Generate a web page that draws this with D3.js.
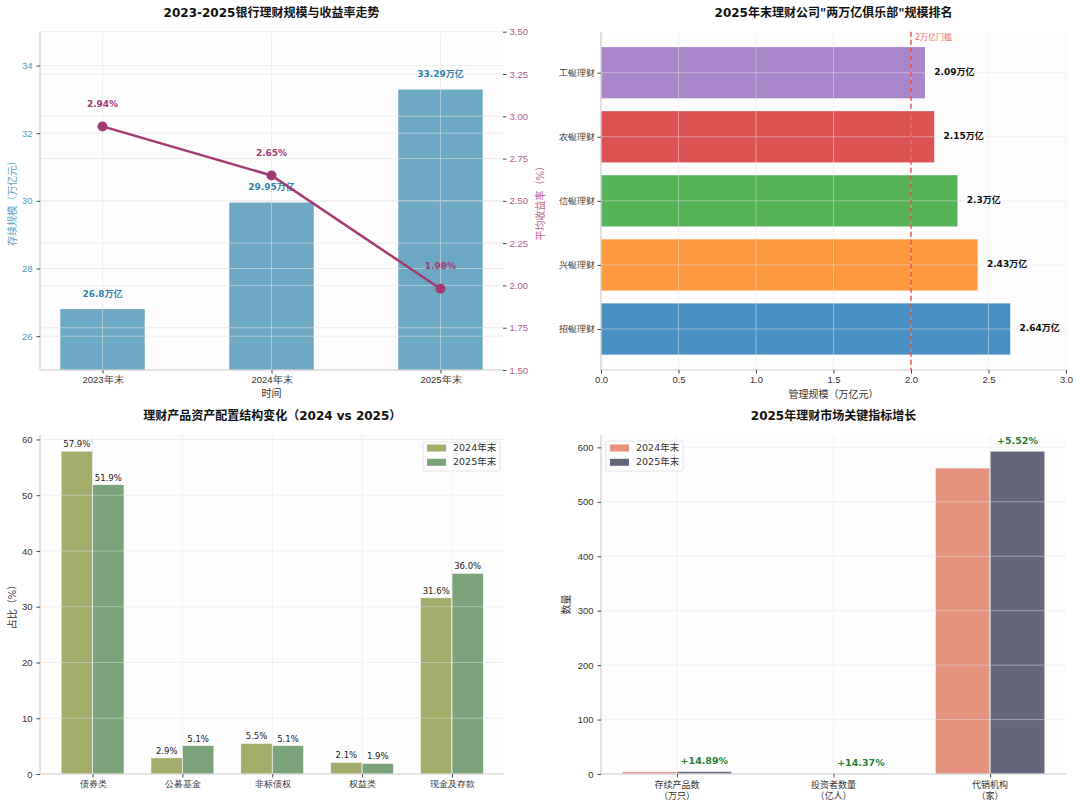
<!DOCTYPE html>
<html>
<head>
<meta charset="utf-8">
<script src="https://cdn.jsdelivr.net/npm/d3@7"></script>
<style>
  body { margin: 0; background: #fff; }
  svg { font-family: "DejaVu Sans", "Noto Sans CJK SC", sans-serif; }
  .tick text { font-size: 9.5px; fill: #333; }
  .tick line { stroke: #444; }
</style>
</head>
<body>
<script>
// 数据
const years = ["2023年末", "2024年末", "2025年末"];
const scaleValues = [26.8, 29.95, 33.29];
const yieldValues = [2.94, 2.65, 1.98];
const scaleTicks = [26, 28, 30, 32, 34];
const yieldTicks = [1.5, 1.75, 2.0, 2.25, 2.5, 2.75, 3.0, 3.25, 3.5];

const companies = ["招银理财", "兴银理财", "信银理财", "农银理财", "工银理财"];
const companyValues = [2.64, 2.43, 2.3, 2.15, 2.09];
const companyColors = ["#4a91c3", "#fe9940", "#57b357", "#de5253", "#a985ca"];
const companyTicks = [0, 0.5, 1.0, 1.5, 2.0, 2.5, 3.0];

const assetTypes = ["债券类", "公募基金", "非标债权", "权益类", "现金及存款"];
const asset2024 = [57.9, 2.9, 5.5, 2.1, 31.6];
const asset2025 = [51.9, 5.1, 5.1, 1.9, 36.0];
const assetTicks = [0, 10, 20, 30, 40, 50, 60];

const indicators = [["存续产品数", "（万只）"], ["投资者数量", "（亿人）"], ["代销机构", "（家）"]];
const ind2024 = [4.01, 1.25, 562];
const ind2025 = [4.61, 1.43, 593];
const growthLabels = ["+14.89%", "+14.37%", "+5.52%"];
const indTicks = [0, 100, 200, 300, 400, 500, 600];

let svg = d3.select("body").append("svg")
    .attr("width", 1080)
    .attr("height", 808);

svg.append("rect").attr("width", 1080).attr("height", 808).attr("fill", "#fff");

function panel(x0, x1, y0, y1) {
    let g = svg.append("g");
    g.append("rect")
        .attr("x", x0).attr("y", y0)
        .attr("width", x1 - x0).attr("height", y1 - y0)
        .attr("fill", "#fdfdfd");
    return g;
}

function spines(g, x0, x1, y0, y1) {
    g.append("line").attr("x1", x0).attr("x2", x0).attr("y1", y0).attr("y2", y1)
        .attr("stroke", "#cfcfcf").attr("stroke-width", 1.2);
    g.append("line").attr("x1", x0).attr("x2", x1).attr("y1", y1).attr("y2", y1)
        .attr("stroke", "#cfcfcf").attr("stroke-width", 1.2);
}

function title(text, cx, cy) {
    svg.append("text")
        .attr("x", cx).attr("y", cy)
        .attr("text-anchor", "middle")
        .attr("dominant-baseline", "middle")
        .attr("font-size", "12px")
        .attr("font-weight", "bold")
        .attr("fill", "#111")
        .text(text);
}

function cleanAxis(sel) {
    sel.select(".domain").remove();
}

// ---------- 图1：规模与收益率 ----------
{
    let x0 = 40, x1 = 503, y0 = 31.7, y1 = 370;
    let g = panel(x0, x1, y0, y1);
    let x = d3.scaleLinear().domain([-0.37, 2.37]).range([x0, x1]);
    let yL = d3.scaleLinear().domain([25, 35]).range([y1, y0]);
    let yR = d3.scaleLinear().domain([1.5, 3.5]).range([y1, y0]);

    g.selectAll(".bar")
        .data(scaleValues)
        .enter().append("rect")
        .attr("x", (d, i) => x(i - 0.25))
        .attr("width", x(0.5) - x(0))
        .attr("y", d => yL(d))
        .attr("height", d => y1 - yL(d))
        .attr("fill", "#6da9c5");

    // 网格
    let grid = g.append("g").attr("stroke", "#e2e2e2").attr("stroke-width", 0.8).attr("opacity", 0.7);
    scaleTicks.forEach(t => grid.append("line").attr("x1", x0).attr("x2", x1).attr("y1", yL(t)).attr("y2", yL(t)));
    yieldTicks.forEach(t => grid.append("line").attr("x1", x0).attr("x2", x1).attr("y1", yR(t)).attr("y2", yR(t)));
    years.forEach((d, i) => grid.append("line").attr("x1", x(i)).attr("x2", x(i)).attr("y1", y0).attr("y2", y1));

    spines(g, x0, x1, y0, y1);

    g.selectAll(".barlabel")
        .data(scaleValues)
        .enter().append("text")
        .attr("x", (d, i) => x(i))
        .attr("y", d => yL(d) - 12.5)
        .attr("text-anchor", "middle")
        .attr("font-size", "9px")
        .attr("font-weight", "bold")
        .attr("fill", "#2E86AB")
        .text(d => d + "万亿");

    let line = d3.line().x((d, i) => x(i)).y(d => yR(d));
    g.append("path")
        .datum(yieldValues)
        .attr("d", line)
        .attr("fill", "none")
        .attr("stroke", "#A23B72")
        .attr("stroke-width", 2.5);
    g.selectAll(".dot")
        .data(yieldValues)
        .enter().append("circle")
        .attr("cx", (d, i) => x(i))
        .attr("cy", d => yR(d))
        .attr("r", 5)
        .attr("fill", "#A23B72");
    g.selectAll(".linelabel")
        .data(yieldValues)
        .enter().append("text")
        .attr("x", (d, i) => x(i))
        .attr("y", d => yR(d) - 19.5)
        .attr("text-anchor", "middle")
        .attr("font-size", "9px")
        .attr("font-weight", "bold")
        .attr("fill", "#A23B72")
        .text(d => d.toFixed(2) + "%");

    let ax = g.append("g").attr("transform", "translate(0," + y1 + ")")
        .call(d3.axisBottom(x).tickValues([0, 1, 2]).tickFormat(i => years[i]).tickSize(3.5).tickPadding(3));
    cleanAxis(ax);
    let al = g.append("g").attr("transform", "translate(" + x0 + ",0)")
        .call(d3.axisLeft(yL).tickValues(scaleTicks).tickSize(3.5).tickPadding(4));
    cleanAxis(al);
    al.selectAll("text").style("fill", "#4f9bc0");
    let ar = g.append("g").attr("transform", "translate(" + x1 + ",0)")
        .call(d3.axisRight(yR).tickValues(yieldTicks).tickFormat(d3.format(".2f")).tickSize(3.5).tickPadding(3));
    cleanAxis(ar);
    ar.selectAll("text").style("fill", "#b45a88");

    g.append("text").attr("x", (x0 + x1) / 2).attr("y", 393.5)
        .attr("text-anchor", "middle").attr("dominant-baseline", "middle")
        .attr("font-size", "10px").attr("fill", "#333").text("时间");
    g.append("text")
        .attr("transform", "translate(13," + ((y0 + y1) / 2) + ") rotate(-90)")
        .attr("text-anchor", "middle").attr("dominant-baseline", "middle")
        .attr("font-size", "10px").attr("fill", "#5aa0c4").text("存续规模（万亿元）");
    g.append("text")
        .attr("transform", "translate(541," + ((y0 + y1) / 2) + ") rotate(-90)")
        .attr("text-anchor", "middle").attr("dominant-baseline", "middle")
        .attr("font-size", "10px").attr("fill", "#b8608c").text("平均收益率（%）");

    title("2023-2025银行理财规模与收益率走势", (x0 + x1) / 2, 13);
}

// ---------- 图2：两万亿俱乐部 ----------
{
    let x0 = 601, x1 = 1066, y0 = 31.7, y1 = 370;
    let g = panel(x0, x1, y0, y1);
    let x = d3.scaleLinear().domain([0, 3]).range([x0, x1]);
    let y = d3.scaleLinear().domain([-0.64, 4.64]).range([y1, y0]);

    g.selectAll(".bar")
        .data(companyValues)
        .enter().append("rect")
        .attr("x", x(0))
        .attr("y", (d, i) => y(i + 0.4))
        .attr("height", y(0) - y(0.8))
        .attr("width", d => x(d) - x(0))
        .attr("fill", (d, i) => companyColors[i]);

    let grid = g.append("g").attr("stroke", "#e4e4e4").attr("stroke-width", 0.8).attr("opacity", 0.6);
    companyTicks.forEach(t => grid.append("line").attr("x1", x(t)).attr("x2", x(t)).attr("y1", y0).attr("y2", y1));
    companies.forEach((d, i) => grid.append("line").attr("x1", x0).attr("x2", x1).attr("y1", y(i)).attr("y2", y(i)));

    spines(g, x0, x1, y0, y1);

    g.append("line")
        .attr("x1", x(2)).attr("x2", x(2)).attr("y1", y0).attr("y2", y1)
        .attr("stroke", "#e8423f").attr("stroke-width", 1.3)
        .attr("stroke-dasharray", "5,3");
    g.append("text")
        .attr("x", x(2) + 4).attr("y", 37.5)
        .attr("dominant-baseline", "middle")
        .attr("font-size", "8px").attr("fill", "#ec6b6b")
        .text("2万亿门槛");

    g.selectAll(".barlabel")
        .data(companyValues)
        .enter().append("text")
        .attr("x", d => x(d + 0.06))
        .attr("y", (d, i) => y(i))
        .attr("dominant-baseline", "middle")
        .attr("font-size", "9px")
        .attr("font-weight", "bold")
        .attr("fill", "#111")
        .text(d => d + "万亿");

    let ax = g.append("g").attr("transform", "translate(0," + y1 + ")")
        .call(d3.axisBottom(x).tickValues(companyTicks).tickFormat(d3.format(".1f")).tickSize(3.5).tickPadding(3));
    cleanAxis(ax);
    let ay = g.append("g").attr("transform", "translate(" + x0 + ",0)")
        .call(d3.axisLeft(y).tickValues([0, 1, 2, 3, 4]).tickFormat(i => companies[i]).tickSize(3.5).tickPadding(3));
    cleanAxis(ay);
    ay.selectAll("text").style("font-size", "9px");

    g.append("text").attr("x", (x0 + x1) / 2).attr("y", 394.5)
        .attr("text-anchor", "middle").attr("dominant-baseline", "middle")
        .attr("font-size", "10px").attr("fill", "#333").text("管理规模（万亿元）");

    title("2025年末理财公司\"两万亿俱乐部\"规模排名", (x0 + x1) / 2, 13);
}

// ---------- 图3：资产配置结构 ----------
{
    let x0 = 40, x1 = 504.5, y0 = 435, y1 = 774;
    let g = panel(x0, x1, y0, y1);
    let x = d3.scaleLinear().domain([-0.585, 4.585]).range([x0, x1]);
    let y = d3.scaleLinear().domain([0, 60.8]).range([y1, y0]);
    let w = 0.35;
    let c2024 = "#a3ac68", c2025 = "#7aa37a";

    let series = [[asset2024, -w / 2, c2024], [asset2025, w / 2, c2025]];
    series.forEach(s => {
        g.selectAll(null)
            .data(s[0])
            .enter().append("rect")
            .attr("x", (d, i) => x(i + s[1] - w / 2))
            .attr("width", x(w) - x(0))
            .attr("y", d => y(d))
            .attr("height", d => y1 - y(d))
            .attr("fill", s[2])
            .attr("stroke", "#fff").attr("stroke-width", 0.6);
    });

    let grid = g.append("g").attr("stroke", "#e4e4e4").attr("stroke-width", 0.8).attr("opacity", 0.6);
    assetTicks.forEach(t => grid.append("line").attr("x1", x0).attr("x2", x1).attr("y1", y(t)).attr("y2", y(t)));
    assetTypes.forEach((d, i) => grid.append("line").attr("x1", x(i)).attr("x2", x(i)).attr("y1", y0).attr("y2", y1));

    spines(g, x0, x1, y0, y1);

    series.forEach(s => {
        g.selectAll(null)
            .data(s[0])
            .enter().append("text")
            .attr("x", (d, i) => x(i + s[1]))
            .attr("y", d => y(d) - 4)
            .attr("text-anchor", "middle")
            .attr("font-size", "8.5px")
            .attr("fill", "#222")
            .text(d => d.toFixed(1) + "%");
    });

    let ax = g.append("g").attr("transform", "translate(0," + y1 + ")")
        .call(d3.axisBottom(x).tickValues([0, 1, 2, 3, 4]).tickFormat(i => assetTypes[i]).tickSize(3.5).tickPadding(3));
    cleanAxis(ax);
    ax.selectAll("text").style("font-size", "9px");
    let ay = g.append("g").attr("transform", "translate(" + x0 + ",0)")
        .call(d3.axisLeft(y).tickValues(assetTicks).tickSize(3.5).tickPadding(4));
    cleanAxis(ay);

    g.append("text")
        .attr("transform", "translate(13," + ((y0 + y1) / 2) + ") rotate(-90)")
        .attr("text-anchor", "middle").attr("dominant-baseline", "middle")
        .attr("font-size", "10px").attr("fill", "#333").text("占比（%）");

    // 图例
    let lg = g.append("g");
    lg.append("rect").attr("x", 423).attr("y", 442).attr("width", 77).attr("height", 29).attr("rx", 2)
        .attr("fill", "#fff").attr("stroke", "#ddd").attr("stroke-width", 0.8);
    [["2024年末", c2024], ["2025年末", c2025]].forEach((d, i) => {
        lg.append("rect").attr("x", 427).attr("y", 444.5 + i * 14.3).attr("width", 19).attr("height", 7).attr("fill", d[1]);
        lg.append("text").attr("x", 453).attr("y", 448 + i * 14.3).attr("dominant-baseline", "middle")
            .attr("font-size", "9.5px").attr("fill", "#333").text(d[0]);
    });

    title("理财产品资产配置结构变化（2024 vs 2025）", (x0 + x1) / 2, 416.5);
}

// ---------- 图4：关键指标增长 ----------
{
    let x0 = 601, x1 = 1066, y0 = 435, y1 = 774;
    let g = panel(x0, x1, y0, y1);
    let x = d3.scaleLinear().domain([-0.485, 2.485]).range([x0, x1]);
    let y = d3.scaleLinear().domain([0, 622.7]).range([y1, y0]);
    let w = 0.35;
    let c2024 = "#e5927e", c2025 = "#64667c";

    let series = [[ind2024, -w / 2, c2024], [ind2025, w / 2, c2025]];
    series.forEach(s => {
        g.selectAll(null)
            .data(s[0])
            .enter().append("rect")
            .attr("x", (d, i) => x(i + s[1] - w / 2))
            .attr("width", x(w) - x(0))
            .attr("y", d => y(d))
            .attr("height", d => y1 - y(d))
            .attr("fill", s[2])
            .attr("stroke", "#fff").attr("stroke-width", 0.6);
    });

    let grid = g.append("g").attr("stroke", "#e4e4e4").attr("stroke-width", 0.8).attr("opacity", 0.6);
    indTicks.forEach(t => grid.append("line").attr("x1", x0).attr("x2", x1).attr("y1", y(t)).attr("y2", y(t)));
    indicators.forEach((d, i) => grid.append("line").attr("x1", x(i)).attr("x2", x(i)).attr("y1", y0).attr("y2", y1));

    spines(g, x0, x1, y0, y1);

    g.selectAll(".growth")
        .data(growthLabels)
        .enter().append("text")
        .attr("x", (d, i) => x(i + w / 2))
        .attr("y", (d, i) => y(Math.max(ind2024[i], ind2025[i])) - 7.5)
        .attr("text-anchor", "middle")
        .attr("font-size", "9.5px")
        .attr("font-weight", "bold")
        .attr("fill", "#2e7d32")
        .text(d => d);

    let ax = g.append("g").attr("transform", "translate(0," + y1 + ")")
        .call(d3.axisBottom(x).tickValues([0, 1, 2]).tickFormat("").tickSize(3.5));
    cleanAxis(ax);
    indicators.forEach((d, i) => {
        let t = g.append("text").attr("x", x(i)).attr("y", 788)
            .attr("text-anchor", "middle").attr("font-size", "9px").attr("fill", "#333");
        t.append("tspan").attr("x", x(i)).attr("dy", 0).text(d[0]);
        t.append("tspan").attr("x", x(i)).attr("dy", 11).text(d[1]);
    });
    let ay = g.append("g").attr("transform", "translate(" + x0 + ",0)")
        .call(d3.axisLeft(y).tickValues(indTicks).tickSize(3.5).tickPadding(4));
    cleanAxis(ay);

    g.append("text")
        .attr("transform", "translate(567," + ((y0 + y1) / 2) + ") rotate(-90)")
        .attr("text-anchor", "middle").attr("dominant-baseline", "middle")
        .attr("font-size", "10px").attr("fill", "#333").text("数量");

    let lg = g.append("g");
    lg.append("rect").attr("x", 606).attr("y", 441).attr("width", 77).attr("height", 30).attr("rx", 2)
        .attr("fill", "#fff").attr("stroke", "#ddd").attr("stroke-width", 0.8);
    [["2024年末", c2024], ["2025年末", c2025]].forEach((d, i) => {
        lg.append("rect").attr("x", 610).attr("y", 444.5 + i * 14.3).attr("width", 19).attr("height", 7).attr("fill", d[1]);
        lg.append("text").attr("x", 636).attr("y", 448 + i * 14.3).attr("dominant-baseline", "middle")
            .attr("font-size", "9.5px").attr("fill", "#333").text(d[0]);
    });

    title("2025年理财市场关键指标增长", (x0 + x1) / 2, 416.5);
}
</script>
</body>
</html>
